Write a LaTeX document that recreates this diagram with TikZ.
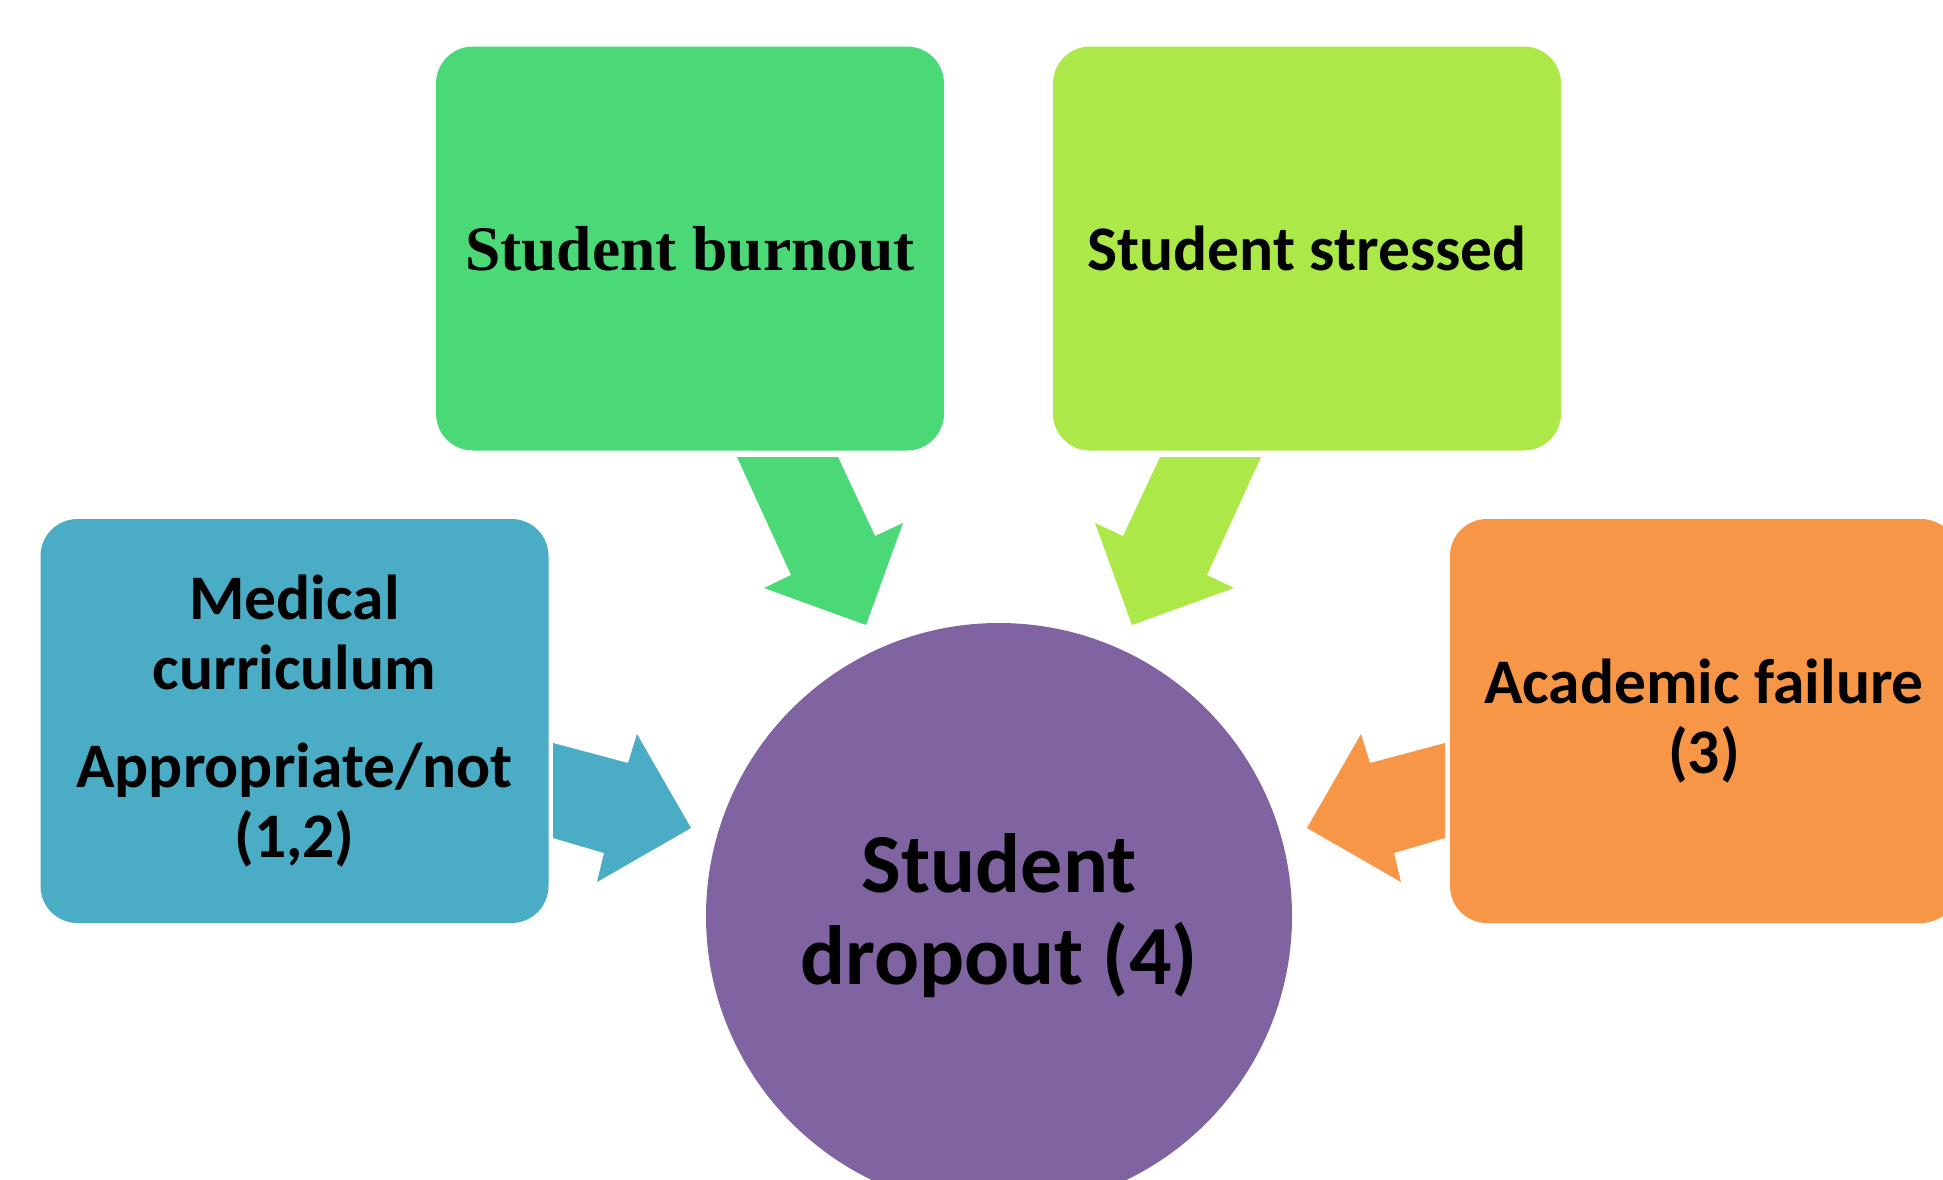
\documentclass[tikz,border=0pt]{standalone}
\usepackage{fontspec}
\setmainfont{Carlito}
\newfontfamily\serifbold{Liberation Serif}
\definecolor{curriccol}{HTML}{4BACC6}
\definecolor{burncol}{HTML}{4AD976}
\definecolor{stresscol}{HTML}{ACE948}
\definecolor{failcol}{HTML}{F79646}
\definecolor{dropcol}{HTML}{8064A2}
\tikzset{card/.style={rectangle,rounded corners=37pt,minimum width=508pt,minimum height=404pt,inner sep=0pt,align=center,font=\bfseries\fontsize{63.5}{70}\selectfont}}
\tikzset{hub/.style={circle,minimum size=586pt,inner sep=0pt,align=center,font=\bfseries\fontsize{84}{92}\selectfont}}

\begin{document}
\begin{tikzpicture}[x=1pt,y=-1pt]
    \clip (0,0) rectangle (1943,1179);
    \node [card,fill=burncol] (burnout) at (690,248.5) {\serifbold\bfseries Student burnout};
    \node [card,fill=stresscol] (stressed) at (1307,248.5) {Student stressed};
    \node [card,fill=curriccol] (curric) at (294.5,721) {Medical\\curriculum\\[28pt]Appropriate/not\\(1,2)};
    \node [card,fill=failcol] (failure) at (1704,721) {Academic failure\\(3)};
    \node [hub,fill=dropcol] (dropout) at (999,916) {Student\\dropout (4)};
    \fill [curriccol] (553,743) -- (628,763) -- (637,734) -- (691,828) -- (597,882) -- (604,853) -- (553,838) -- cycle;
    \fill [failcol] (1445,743) -- (1370,763) -- (1361,734) -- (1307,828) -- (1401,882) -- (1394,853) -- (1445,838) -- cycle;
    \fill [burncol] (737,457) -- (838,457) -- (875,536) -- (903,523) -- (866,625) -- (764,588) -- (791,575) -- cycle;
    \fill [stresscol] (1261,457) -- (1160,457) -- (1123,536) -- (1095,523) -- (1132,625) -- (1234,588) -- (1207,575) -- cycle;
\end{tikzpicture}
\end{document}
